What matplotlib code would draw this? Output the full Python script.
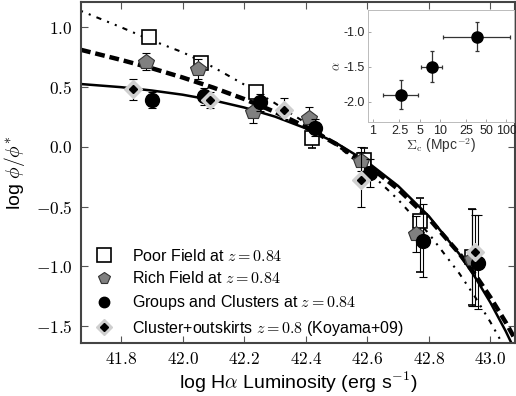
import matplotlib
matplotlib.use("Agg")
import matplotlib.pyplot as plt
from matplotlib.lines import Line2D
from matplotlib.ticker import FixedLocator, FuncFormatter, NullLocator
import numpy as np

plt.rcParams['font.family'] = ['Liberation Sans', 'DejaVu Sans']
plt.rcParams['mathtext.fontset'] = 'cm'

# ---------------- data ----------------
# Model curves (log phi/phi*) sampled along log L
curve_x = [41.67, 41.8, 41.9, 42.0, 42.1, 42.2, 42.3, 42.4, 42.5, 42.6,
           42.7, 42.8, 42.9, 42.95, 43.0, 43.05, 43.1]
solid_y = [0.524, 0.498, 0.470, 0.435, 0.388, 0.328, 0.252, 0.154, 0.030,
           -0.127, -0.327, -0.580, -0.899, -1.089, -1.302, -1.542, -1.811]
dashed_y = [0.810, 0.726, 0.656, 0.579, 0.494, 0.399, 0.291, 0.166, 0.021,
            -0.150, -0.354, -0.599, -0.895, -1.067, -1.258, -1.468, -1.700]
dotted_y = [1.135, 0.999, 0.889, 0.790, 0.665, 0.520, 0.364, 0.199, 0.014,
            -0.197, -0.441, -0.726, -1.062, -1.254, -1.465, -1.695, -1.95]

# Poor field (open squares)
poor_x = [41.89, 42.06, 42.24, 42.42, 42.59, 42.77, 42.94]
poor_y = [0.92, 0.70, 0.46, 0.07, -0.11, -0.62, -0.92]
poor_lo = [0.03, 0.04, 0.05, 0.08, 0.10, 0.43, 0.40]
poor_hi = [0.03, 0.04, 0.05, 0.05, 0.10, 0.19, 0.40]

# Rich field (grey pentagons)
rich_x = [41.88, 42.05, 42.23, 42.41, 42.58, 42.76, 42.94]
rich_y = [0.71, 0.65, 0.29, 0.24, -0.12, -0.73, -0.94]
rich_lo = [0.07, 0.08, 0.09, 0.09, 0.08, 0.15, 0.39]
rich_hi = [0.07, 0.08, 0.09, 0.09, 0.08, 0.15, 0.42]

# Groups and clusters (black circles)
grp_x = [41.90, 42.07, 42.25, 42.43, 42.61, 42.78, 42.96]
grp_y = [0.39, 0.42, 0.37, 0.16, -0.22, -0.79, -0.97]
grp_lo = [0.07, 0.07, 0.07, 0.07, 0.12, 0.30, 0.39]
grp_hi = [0.07, 0.07, 0.07, 0.07, 0.12, 0.31, 0.40]

# Koyama+09 (diamonds)
koy_x = [41.84, 42.09, 42.33, 42.58, 42.95]
koy_y = [0.48, 0.39, 0.31, -0.28, -0.88]
koy_lo = [0.09, 0.07, 0.08, 0.22, 0.45]
koy_hi = [0.09, 0.07, 0.10, 0.28, 0.31]

# Inset: alpha vs Sigma_c
ins_x = [2.6, 7.6, 36.0]
ins_y = [-1.90, -1.50, -1.07]
ins_xlo = [1.19, 2.4, 24.6]
ins_xhi = [2.15, 3.2, 79.0]
ins_ylo = [0.20, 0.22, 0.20]
ins_yhi = [0.21, 0.23, 0.21]

xticks = [41.8, 42.0, 42.2, 42.4, 42.6, 42.8, 43.0]
yticks = [1.0, 0.5, 0.0, -0.5, -1.0, -1.5]
ins_xticks = [1, 2.5, 5, 10, 25, 50, 100]
ins_xticklabels = ['1', '2.5', '5', '10', '25', '50', '100']
ins_yticks = [-1.0, -1.5, -2.0]

labels = ['Poor Field at $z=0.84$', 'Rich Field at $z=0.84$',
          'Groups and Clusters at $z=0.84$',
          'Cluster+outskirts $z=0.8$ (Koyama+09)']

# ---------------- figure ----------------
fig = plt.figure(figsize=(5.16, 3.96), dpi=100)
ax = fig.add_axes([0.157, 0.134, 0.841, 0.861])

ax.plot(curve_x, solid_y, color='black', lw=1.8, zorder=2)
ax.plot(curve_x, dashed_y, color='black', lw=3.2, dashes=(2.2, 1.1), zorder=2)
ax.plot(curve_x, dotted_y, color='black', lw=1.5,
        dashes=(1.0, 3.0, 1.0, 3.0, 2.5, 3.0), zorder=2)

ekw = dict(ecolor='black', elinewidth=0.8, capsize=3, capthick=0.8, ls='none')
ax.errorbar(poor_x, poor_y, yerr=[poor_lo, poor_hi], marker='s', ms=10,
            mfc='white', mec='black', mew=1.2, zorder=3, **ekw)
ax.errorbar(rich_x, rich_y, yerr=[rich_lo, rich_hi], marker='p', ms=11.5,
            mfc='#808080', mec='#333333', mew=0.8, zorder=4, **ekw)
ax.errorbar(grp_x, grp_y, yerr=[grp_lo, grp_hi], marker='o', ms=10,
            mfc='black', mec='black', zorder=5, **ekw)
ax.errorbar(koy_x, koy_y, yerr=[koy_lo, koy_hi], marker='D', ms=9,
            mfc='#cfcfcf', mec='#cfcfcf', zorder=6, **ekw)
ax.plot(koy_x, koy_y, ls='none', marker='D', ms=4.5, mfc='black',
        mec='black', zorder=7)

ax.set_xlim(41.67, 43.08)
ax.set_ylim(-1.64, 1.21)
ax.xaxis.set_major_locator(FixedLocator(xticks))
ax.yaxis.set_major_locator(FixedLocator(yticks))
fmt = FuncFormatter(lambda v, p: f"${v:.1f}$")
ax.xaxis.set_major_formatter(fmt)
ax.yaxis.set_major_formatter(fmt)
ax.tick_params(direction='in', top=True, right=True, length=5, width=0.8,
               color='#555555', labelsize=12.5, pad=6)
for s in ax.spines.values():
    s.set_linewidth(1.5)
    s.set_color('#444444')

ax.set_xlabel(r'log H$\alpha$ Luminosity (erg s$^{-1}$)', fontsize=14, labelpad=2)
ax.set_ylabel(r'log $\phi/\phi^{*}$', fontsize=14, labelpad=6)

# legend
h_poor = Line2D([], [], ls='none', marker='s', ms=10, mfc='white', mec='black', mew=1.2)
h_rich = Line2D([], [], ls='none', marker='p', ms=8.5, mfc='#808080', mec='#333333', mew=0.8)
h_grp = Line2D([], [], ls='none', marker='o', ms=7.5, mfc='black', mec='black')
h_k1 = Line2D([], [], ls='none', marker='D', ms=8, mfc='#cfcfcf', mec='#cfcfcf')
h_k2 = Line2D([], [], ls='none', marker='D', ms=4, mfc='black', mec='black')
ax.legend([h_poor, h_rich, h_grp, (h_k1, h_k2)], labels, loc='lower left',
          bbox_to_anchor=(0.008, -0.018), frameon=False, fontsize=11.5,
          handlelength=1.0, handletextpad=1.3, labelspacing=0.42,
          borderaxespad=0.4, borderpad=0.3)

# inset
ins = fig.add_axes([0.713, 0.692, 0.283, 0.283])
ins.errorbar(ins_x, ins_y, xerr=[ins_xlo, ins_xhi], yerr=[ins_ylo, ins_yhi],
             marker='o', ms=8, mfc='black', mec='black', ls='none',
             ecolor='#333333', elinewidth=0.9, capsize=1.5, capthick=0.9)
ins.set_xscale('log')
ins.set_xlim(0.84, 130)
ins.set_ylim(-2.29, -0.69)
ins.xaxis.set_major_locator(FixedLocator(ins_xticks))
ins.xaxis.set_minor_locator(NullLocator())
ins.set_xticklabels(ins_xticklabels)
ins.yaxis.set_major_locator(FixedLocator(ins_yticks))
ins.set_yticklabels([f"{v:.1f}" for v in ins_yticks])
ins.tick_params(direction='in', length=2, width=0.6, color='#999999',
                labelsize=9, pad=2, labelcolor='#222222')
for s in ins.spines.values():
    s.set_linewidth(0.7)
    s.set_color('#bbbbbb')
ins.set_xlabel(r'$\Sigma_{\rm c}$ (Mpc$^{-2}$)', fontsize=10, labelpad=0,
               color='#333333')
ins.set_ylabel(r'$\alpha$', fontsize=9, labelpad=0, color='#333333')

fig.savefig('out.png', dpi=100)
